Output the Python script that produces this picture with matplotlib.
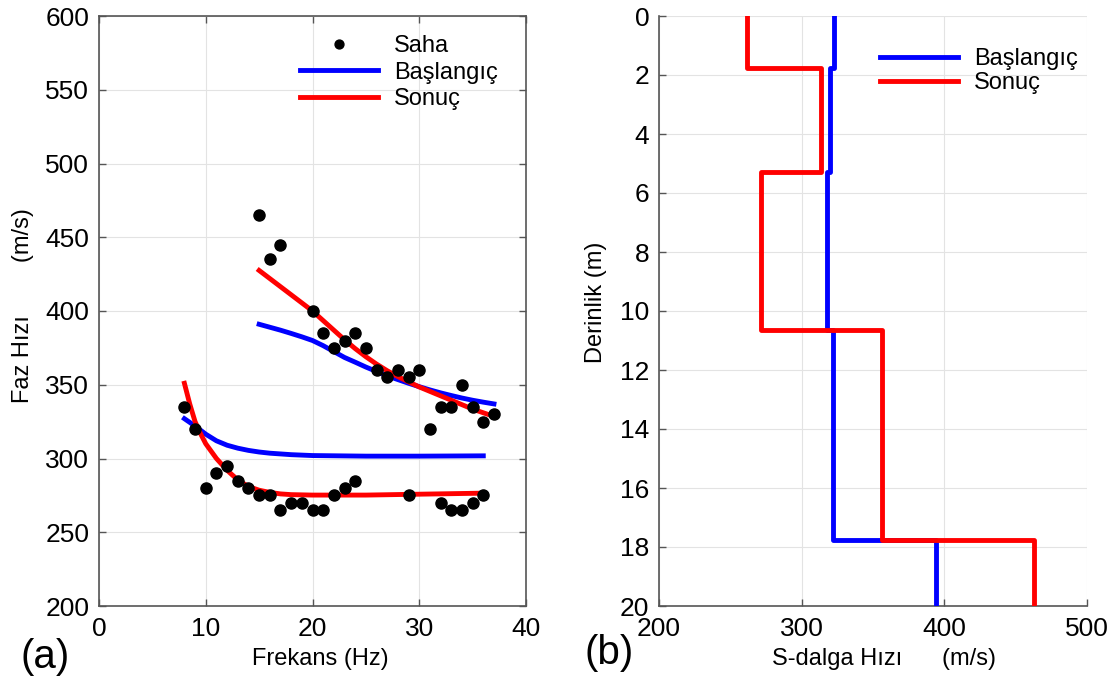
import matplotlib
matplotlib.use("Agg")
import matplotlib.pyplot as plt

plt.rcParams['font.family'] = ['Liberation Sans', 'DejaVu Sans']

# ---- (a) dispersion curves ----
# field picks, fundamental mode
saha_f0 = [8, 9, 10, 11, 12, 13, 14, 15, 16, 17, 18, 19, 20, 21, 22, 23, 24,
           29, 32, 33, 34, 35, 36]
saha_v0 = [335, 320, 280, 290, 295, 285, 280, 275, 275, 265, 270, 270, 265, 265,
           275, 280, 285, 275, 270, 265, 265, 270, 275]
# field picks, higher mode
saha_f1 = [15, 16, 17, 20, 21, 22, 23, 24, 25, 26, 27, 28, 29, 30, 31, 32, 33,
           34, 35, 36, 37]
saha_v1 = [465, 435, 445, 400, 385, 375, 380, 385, 375, 360, 355, 360, 355, 360,
           320, 335, 335, 350, 335, 325, 330]

# initial model response
bas_f0 = [8, 9, 10, 11, 12, 13, 14, 15, 16, 18, 20, 25, 30, 36]
bas_v0 = [327, 322, 316.5, 312, 309, 307, 305.5, 304.4, 303.6, 302.6, 302,
          301.6, 301.6, 301.8]
bas_f1 = [15, 16, 17, 18, 19, 20, 21, 22, 23, 24, 25, 26, 27, 28, 29, 30, 31,
          32, 33, 34, 35, 36, 37]
bas_v1 = [391, 389, 387, 384.8, 382.5, 380, 376.5, 372.5, 368.5, 365.3, 362,
          359, 356, 353.5, 351, 348.7, 346.5, 344.5, 342.7, 341, 339.5, 338.2,
          337]

# final model response
son_f0 = [8, 8.5, 9, 9.5, 10, 11, 12, 13, 14, 15, 16, 17, 18, 20, 25, 30, 36]
son_v0 = [351, 337, 325, 317, 310, 300, 292, 285.5, 281, 278.5, 277, 276,
          275.5, 275.2, 275.2, 275.8, 276.5]
son_f1 = [15, 16, 17, 18, 19, 20, 21, 22, 23, 24, 25, 26, 27, 28, 29, 30, 31,
          32, 33, 34, 35, 36, 37]
son_v1 = [427.5, 422, 416.5, 411, 405.5, 400, 393.5, 387, 380.5, 374.5, 369,
          364, 359.5, 355.5, 352, 348.5, 345.5, 342.5, 339.5, 336.5, 333.5,
          331, 328.5]

# ---- (b) shear-wave velocity profiles ----
bas_vs = [323, 320, 317.5, 321.7, 394.5]
son_vs = [261.5, 313.3, 271.5, 356, 462.5]
layer_tops = [0, 1.75, 5.3, 10.65, 17.75]
max_depth = 20


def step_profile(tops, vels, bottom):
    xs, ys = [], []
    edges = list(tops) + [bottom]
    for i, v in enumerate(vels):
        xs += [v, v]
        ys += [edges[i], edges[i + 1]]
    return xs, ys


BLUE = (0, 0, 1)
RED = (1, 0, 0)
LW = 3.5
TICK_FS = 19
LABEL_FS = 17
AX_GREY = '#555555'

fig = plt.figure(figsize=(11.19, 6.82), dpi=100)
ax1 = fig.add_axes([99 / 1119, 76 / 682, 427 / 1119, 590 / 682])
ax2 = fig.add_axes([659 / 1119, 76 / 682, 428 / 1119, 590 / 682])

# panel (a)
ax1.plot(saha_f0 + saha_f1, saha_v0 + saha_v1, 'o', color='black', ms=8,
         mec='black', label='Saha', zorder=4)
ax1.plot(bas_f0, bas_v0, color=BLUE, lw=LW, label='Başlangıç', zorder=3)
ax1.plot(bas_f1, bas_v1, color=BLUE, lw=LW, zorder=3)
ax1.plot(son_f0, son_v0, color=RED, lw=LW, label='Sonuç', zorder=3)
ax1.plot(son_f1, son_v1, color=RED, lw=LW, zorder=3)
ax1.set_xlim(0, 40)
ax1.set_ylim(200, 600)
ax1.set_xticks([0, 10, 20, 30, 40])
ax1.set_yticks(range(200, 601, 50))
ax1.set_xlabel('Frekans (Hz)', fontsize=LABEL_FS)
ax1.set_ylabel('Faz Hızı        (m/s)', fontsize=LABEL_FS)
ax1.xaxis.set_label_coords(0.518, -0.072)
ax1.yaxis.set_label_coords(-0.152, 0.51)
ax1.grid(True, color='#e3e3e3', lw=0.8)
ax1.set_axisbelow(True)
ax1.tick_params(direction='in', length=5, width=1, labelsize=TICK_FS,
                top=True, right=True, color=AX_GREY)
ax1.tick_params(axis='x', pad=8)
ax1.tick_params(axis='y', pad=7)
for s in ax1.spines.values():
    s.set_color(AX_GREY)
    s.set_linewidth(1.2)
ax1.legend(loc='upper left', bbox_to_anchor=(0.47, 0.968), frameon=False,
           fontsize=LABEL_FS, handlelength=3.3, handletextpad=0.7,
           labelspacing=0.2, markerscale=0.8, borderpad=0, borderaxespad=0)
ax1.text(-0.185, -0.055, '(a)', transform=ax1.transAxes, fontsize=29,
         ha='left', va='top')

# panel (b)
xb, yb = step_profile(layer_tops, bas_vs, max_depth)
xs, ys = step_profile(layer_tops, son_vs, max_depth)
ax2.plot(xb, yb, color=BLUE, lw=LW, label='Başlangıç', zorder=3)
ax2.plot(xs, ys, color=RED, lw=LW, label='Sonuç', zorder=3)
ax2.set_xlim(200, 500)
ax2.set_ylim(max_depth, 0)
ax2.set_xticks([200, 300, 400, 500])
ax2.set_yticks(range(0, 21, 2))
ax2.set_xlabel('S-dalga Hızı      (m/s)', fontsize=LABEL_FS)
ax2.set_ylabel('Derinlik (m)', fontsize=LABEL_FS)
ax2.xaxis.set_label_coords(0.526, -0.072)
ax2.yaxis.set_label_coords(-0.121, 0.515)
ax2.grid(True, color='#e3e3e3', lw=0.8)
ax2.set_axisbelow(True)
ax2.tick_params(direction='in', length=5, width=1, labelsize=TICK_FS,
                color=AX_GREY)
ax2.tick_params(axis='x', pad=8)
ax2.tick_params(axis='y', pad=7)
ax2.spines['top'].set_visible(False)
ax2.spines['right'].set_visible(False)
for s in ('left', 'bottom'):
    ax2.spines[s].set_color(AX_GREY)
    ax2.spines[s].set_linewidth(1.2)
ax2.legend(loc='upper left', bbox_to_anchor=(0.516, 0.946), frameon=False,
           fontsize=LABEL_FS, handlelength=3.3, handletextpad=0.7,
           labelspacing=0.1, borderpad=0, borderaxespad=0)
ax2.text(-0.175, -0.048, '(b)', transform=ax2.transAxes, fontsize=29,
         ha='left', va='top')

fig.savefig('out.png', dpi=100)
